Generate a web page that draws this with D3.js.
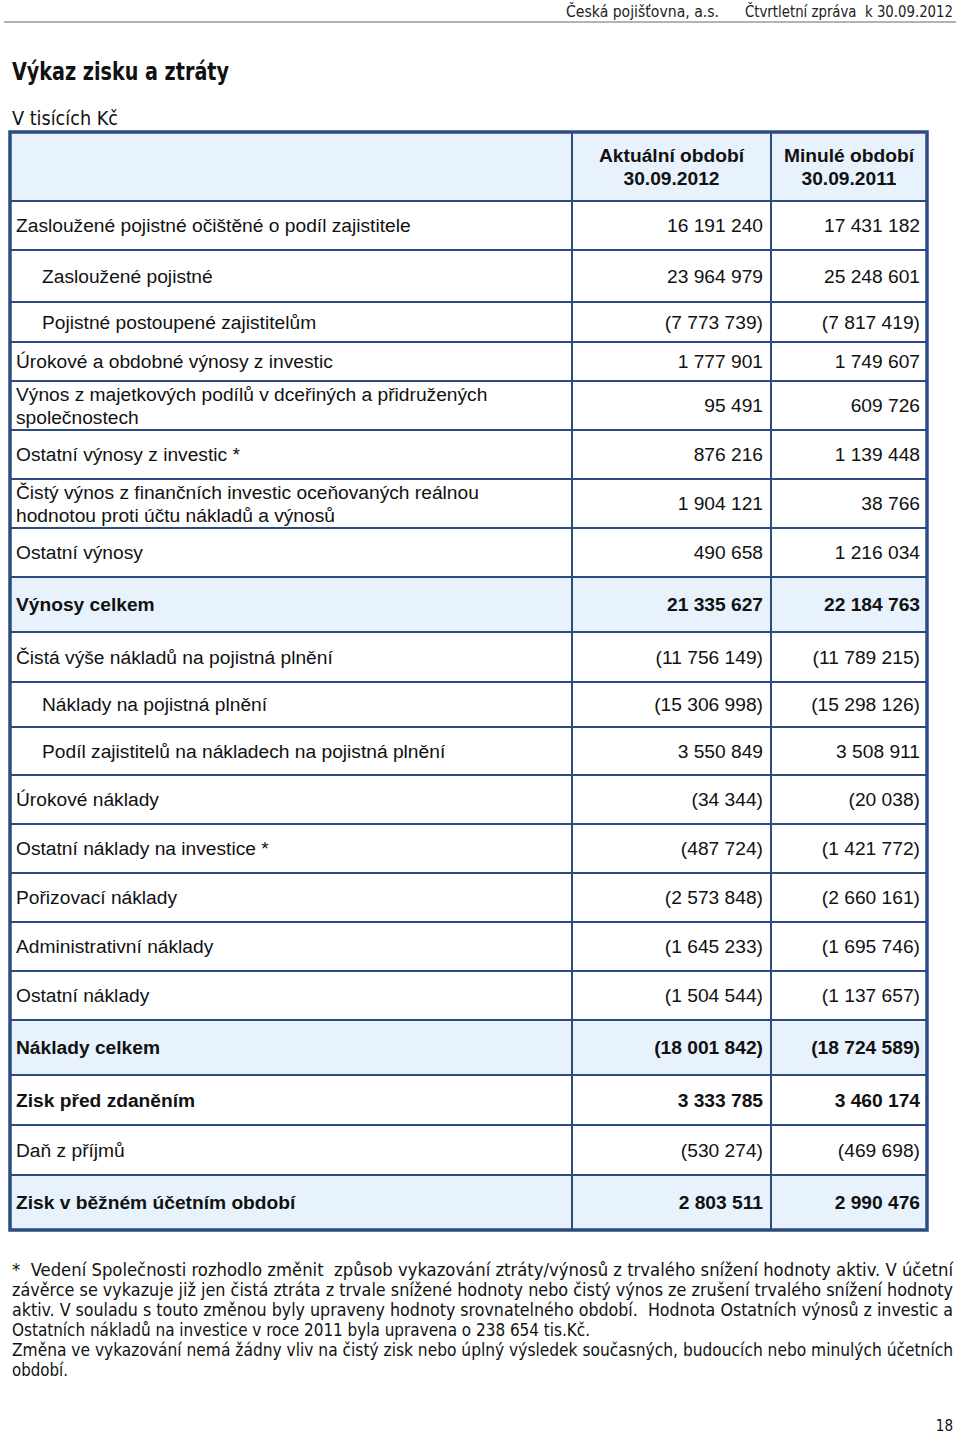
<!DOCTYPE html>
<html><head><meta charset="utf-8">
<script src="https://cdn.jsdelivr.net/npm/d3@7/dist/d3.min.js"></script>
<style>
body{margin:0;background:#fff;}
svg{display:block;}
.narrow{font-family:"Liberation Sans Narrow","DejaVu Sans Condensed","Liberation Sans",sans-serif;}
.tbl{font-family:"Liberation Sans",Arial,sans-serif;}
</style></head>
<body>
<script>
// ---------- DATA ----------
const pageHeader = ["Česká pojišťovna, a.s.", "Čtvrtletní zpráva  k 30.09.2012"];
const title = "Výkaz zisku a ztráty";
const unitLabel = "V tisících Kč";
const columnHeaders = [["Aktuální období", "30.09.2012"], ["Minulé období", "30.09.2011"]];
const labels = [
  "Zasloužené pojistné očištěné o podíl zajistitele",
  "Zasloužené pojistné",
  "Pojistné postoupené zajistitelům",
  "Úrokové a obdobné výnosy z investic",
  "Výnos z majetkových podílů v dceřiných a přidružených\nspolečnostech",
  "Ostatní výnosy z investic *",
  "Čistý výnos z finančních investic oceňovaných reálnou\nhodnotou proti účtu nákladů a výnosů",
  "Ostatní výnosy",
  "Výnosy celkem",
  "Čistá výše nákladů na pojistná plnění",
  "Náklady na pojistná plnění",
  "Podíl zajistitelů na nákladech na pojistná plnění",
  "Úrokové náklady",
  "Ostatní náklady na investice *",
  "Pořizovací náklady",
  "Administrativní náklady",
  "Ostatní náklady",
  "Náklady celkem",
  "Zisk před zdaněním",
  "Daň z příjmů",
  "Zisk v běžném účetním období"
];
const current = [16191240, 23964979, -7773739, 1777901, 95491, 876216, 1904121, 490658, 21335627,
  -11756149, -15306998, 3550849, -34344, -487724, -2573848, -1645233, -1504544, -18001842,
  3333785, -530274, 2803511];
const previous = [17431182, 25248601, -7817419, 1749607, 609726, 1139448, 38766, 1216034, 22184763,
  -11789215, -15298126, 3508911, -20038, -1421772, -2660161, -1695746, -1137657, -18724589,
  3460174, -469698, 2990476];
const indentedRows = [1, 2, 10, 11];
const boldRows = [8, 17, 18, 20];
const shadedRows = [8, 17, 20];
const footnoteLines = [
  "*  Vedení Společnosti rozhodlo změnit  způsob vykazování ztráty/výnosů z trvalého snížení hodnoty aktiv. V účetní",
  "závěrce se vykazuje již jen čistá ztráta z trvale snížené hodnoty nebo čistý výnos ze zrušení trvalého snížení hodnoty",
  "aktiv. V souladu s touto změnou byly upraveny hodnoty srovnatelného období.  Hodnota Ostatních výnosů z investic a",
  "Ostatních nákladů na investice v roce 2011 byla upravena o 238 654 tis.Kč.",
  "Změna ve vykazování nemá žádny vliv na čistý zisk nebo úplný výsledek současných, budoucích nebo minulých účetních",
  "období."
];
const pageNumber = "18";

// ---------- LAYOUT ----------
const W = 960, H = 1434;
const rowHeights = [69, 49, 52, 40, 39, 49, 49, 49, 49, 55, 50, 45, 48, 49, 49, 49, 49, 49, 55, 50, 50, 55];
const tableTop = 132;
const colEdges = [10, 572, 771, 927];
const lineColor = "#2c4b80";
const shade = "#e7f2fc";
const fs = 19.2;

const svg = d3.select("body").append("svg").attr("width", W).attr("height", H);

// page header
svg.append("text").attr("class", "narrow").attr("x", 719).attr("y", 17)
  .attr("text-anchor", "end").attr("font-size", 15).attr("fill", "#222")
  .attr("textLength", 153).attr("lengthAdjust", "spacingAndGlyphs").text(pageHeader[0]);
svg.append("text").attr("class", "narrow").attr("x", 953).attr("y", 17)
  .attr("text-anchor", "end").attr("font-size", 15).attr("fill", "#222")
  .attr("textLength", 208).attr("lengthAdjust", "spacingAndGlyphs").attr("xml:space", "preserve").text(pageHeader[1]);
svg.append("line").attr("x1", 4).attr("x2", 956).attr("y1", 22).attr("y2", 22)
  .attr("stroke", "#8fa096").attr("stroke-width", 1.5);

svg.append("text").attr("class", "narrow").attr("x", 12).attr("y", 80)
  .attr("font-size", 25).attr("font-weight", "bold").attr("fill", "#111")
  .attr("textLength", 217).attr("lengthAdjust", "spacingAndGlyphs").text(title);
svg.append("text").attr("class", "narrow").attr("x", 12).attr("y", 125)
  .attr("font-size", 19).attr("fill", "#111")
  .attr("textLength", 106).attr("lengthAdjust", "spacingAndGlyphs").text(unitLabel);

// table geometry
const edges = [tableTop];
rowHeights.forEach(h => edges.push(edges[edges.length - 1] + h));
const y = i => edges[i];           // i = 0 header, i>=1 data rows
const tableBottom = edges[edges.length - 1];

const fmtInt = d3.formatLocale({decimal: ",", thousands: " ", grouping: [3], currency: ["", ""]}).format(",d");
const fmtVal = v => v < 0 ? "(" + fmtInt(-v) + ")" : fmtInt(v);

const rows = labels.map((l, i) => ({
  label: l, cur: current[i], prev: previous[i],
  indent: indentedRows.includes(i), bold: boldRows.includes(i), shaded: shadedRows.includes(i), idx: i + 1
}));

const g = svg.append("g").attr("class", "tbl");

g.append("rect").attr("x", colEdges[0]).attr("y", y(0)).attr("width", colEdges[3] - colEdges[0])
  .attr("height", y(1) - y(0)).attr("fill", shade);
g.selectAll("rect.sh").data(rows.filter(r => r.shaded)).join("rect").attr("class", "sh")
  .attr("x", colEdges[0]).attr("y", d => y(d.idx)).attr("width", colEdges[3] - colEdges[0])
  .attr("height", d => y(d.idx + 1) - y(d.idx)).attr("fill", shade);

g.selectAll("line.h").data(edges.slice(1, -1)).join("line").attr("class", "h")
  .attr("x1", colEdges[0]).attr("x2", colEdges[3]).attr("y1", d => d).attr("y2", d => d)
  .attr("stroke", lineColor).attr("stroke-width", 2);
g.selectAll("line.v").data(colEdges.slice(1, -1)).join("line").attr("class", "v")
  .attr("x1", d => d).attr("x2", d => d).attr("y1", tableTop).attr("y2", tableBottom)
  .attr("stroke", lineColor).attr("stroke-width", 2);
g.append("rect").attr("x", colEdges[0]).attr("y", tableTop).attr("width", colEdges[3] - colEdges[0])
  .attr("height", tableBottom - tableTop).attr("fill", "none").attr("stroke", lineColor).attr("stroke-width", 3.5);

columnHeaders.forEach((lines, c) => {
  const cx = (colEdges[c + 1] + colEdges[c + 2]) / 2;
  const t = g.append("text").attr("x", cx).attr("y", (y(0) + y(1)) / 2).attr("text-anchor", "middle")
    .attr("font-size", fs).attr("font-weight", "bold").attr("fill", "#111");
  lines.forEach((s, k) => t.append("tspan").attr("x", cx).attr("dy", k === 0 ? "-0.23em" : "1.2em").text(s));
});

const rg = g.selectAll("g.row").data(rows).join("g").attr("class", "row")
  .attr("font-weight", d => d.bold ? "bold" : "normal");
rg.each(function (d) {
  const sel = d3.select(this);
  const cy = (y(d.idx) + y(d.idx + 1)) / 2;
  const lines = d.label.split("\n");
  const lx = d.indent ? 42 : 16;
  const lh = 23;
  const t = sel.append("text").attr("x", lx).attr("font-size", fs).attr("fill", "#111");
  lines.forEach((s, k) => t.append("tspan").attr("x", lx)
    .attr("y", cy + (k - (lines.length - 1) / 2) * lh).attr("dy", "0.36em").text(s));
  sel.append("text").attr("x", colEdges[2] - 8).attr("y", cy).attr("dy", "0.36em")
    .attr("text-anchor", "end").attr("font-size", fs).attr("fill", "#111").text(fmtVal(d.cur));
  sel.append("text").attr("x", colEdges[3] - 7).attr("y", cy).attr("dy", "0.36em")
    .attr("text-anchor", "end").attr("font-size", fs).attr("fill", "#111").text(fmtVal(d.prev));
});

// footnote
const fnWidths = [941, 941, 941, 578, 941, 56];
svg.append("g").attr("class", "narrow").selectAll("text").data(footnoteLines).join("text")
  .attr("x", 12).attr("y", (d, i) => 1276 + i * 20).attr("font-size", 17).attr("fill", "#111")
  .attr("xml:space", "preserve")
  .attr("textLength", (d, i) => fnWidths[i]).attr("lengthAdjust", "spacingAndGlyphs").text(d => d);

svg.append("text").attr("class", "narrow").attr("x", 953).attr("y", 1431).attr("text-anchor", "end")
  .attr("font-size", 15).attr("fill", "#111").text(pageNumber);
</script>
</body></html>
